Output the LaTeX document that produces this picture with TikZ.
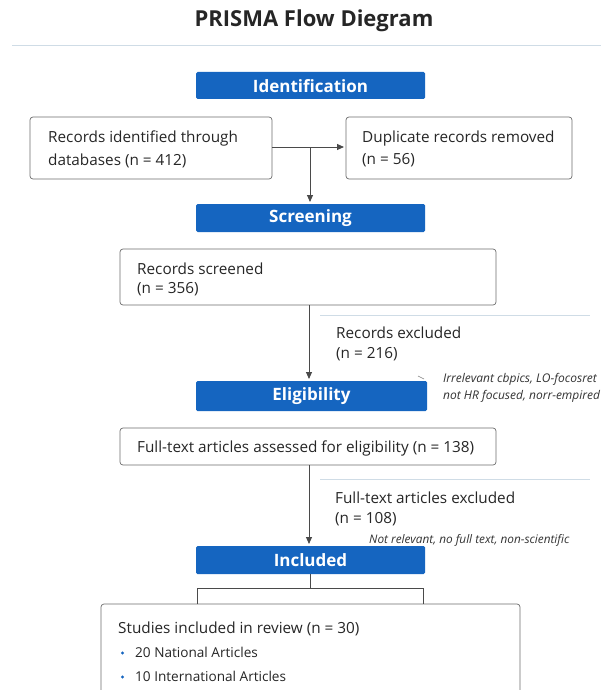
\documentclass[tikz,border=0pt]{standalone}
\usepackage{fontspec}
\setmainfont{Open Sans}
\usetikzlibrary{arrows.meta}
\definecolor{barblue}{HTML}{1565C0}
\definecolor{boxgray}{HTML}{6E6E6E}
\definecolor{arrgray}{HTML}{4A4A4A}
\definecolor{rulecol}{HTML}{CFDCE6}
\tikzset{
  bar/.style={fill=barblue, draw=none, rounded corners=1.5pt},
  bartext/.style={text=white, font=\fontsize{17}{20}\selectfont\bfseries, inner sep=0pt},
  databox/.style={draw=boxgray, line width=0.7pt, rounded corners=3pt, fill=white},
  txt/.style={font=\fontsize{15.3}{18}\selectfont, text=black!85, inner sep=0pt, anchor=west},
  note/.style={font=\fontsize{12}{14}\selectfont\itshape, text=black!80, inner sep=0pt, anchor=west},
  flow/.style={draw=arrgray, line width=0.9pt, -{Triangle[length=7pt,width=6pt]}},
  thin/.style={draw=rulecol, line width=0.8pt},
  dot/.style={circle, fill=barblue, inner sep=0pt, minimum size=3.2pt},
}
\begin{document}
\begin{tikzpicture}[x=1pt,y=-1pt]
\useasboundingbox[fill=white] (0,0) rectangle (601,690);
% title
\node[font=\fontsize{22}{26}\selectfont\bfseries, text=black!85, inner sep=0pt] (title) at (314,21) {PRISMA Flow Diegram};
\coordinate (r0a) at (12,45); \coordinate (r0b) at (601,45);
\draw[thin] (r0a) -- (r0b);

% bars
\path[bar] (196,72) rectangle (425,99); \node[bartext] (ident) at (310.5,86) {Identification};
\path[bar] (196,204) rectangle (425,232); \node[bartext] (screen) at (310.5,218.5) {Screening};
\path[bar] (196,381) rectangle (427,411); \node[bartext] (elig) at (311.5,396.5) {Eligibility};
\path[bar] (196,546) rectangle (425,574); \node[bartext] (incl) at (310.5,560.5) {Included};

% boxes
\draw[databox] (30,117) rectangle (272,179);
\node[txt] (rec) at (48,138.5) {Records identified through};
\node[txt] (rec2) at (48,160.5) {databases (n = 412)};
\draw[databox] (346,117) rectangle (572,179);
\node[txt] (dup) at (362,138.5) {Duplicate records removed};
\node[txt] (dup2) at (362,160.5) {(n = 56)};

\draw[databox] (120,249) rectangle (496,305);
\node[txt] (scr) at (137,268.5) {Records screened};
\node[txt] (scr2) at (137,289.5) {(n = 356)};

\draw[databox] (120,428) rectangle (496,465);
\node[txt] (ft) at (137,448) {Full-text articles assessed for eligibility (n = 138)};

\draw[databox] (101,604) rectangle (520,700);
\node[txt] (inc) at (118,628.5) {Studies included in review (n = 30)};
\node[dot] (b1) at (122.5,653) {};
\node[txt, font=\fontsize{13.6}{16}\selectfont] (i1) at (135,652) {20 National Articles};
\node[dot] (b2) at (122.5,677) {};
\node[txt, font=\fontsize{13.6}{16}\selectfont] (i2) at (135,676) {10 International Articles};

% connectors identification
\coordinate (a1) at (272,147);
\coordinate (a2) at (344,147);
\coordinate (j1) at (310,147);
\coordinate (j2) at (310,202);
\draw[flow] (a1) -- (a2);
\draw[flow] (j1) -- (j2);

% screening -> eligibility
\coordinate (s1) at (309,305);
\coordinate (s2) at (309,379);
\draw[flow] (s1) -- (s2);
\coordinate (l1a) at (320,315); \coordinate (l1b) at (590,315);
\draw[thin] (l1a) -- (l1b);
\node[txt] (ex1) at (336,332.5) {Records excluded};
\node[txt] (ex1b) at (336,354.5) {(n = 216)};
\coordinate (hk1) at (418,376); \coordinate (hk2) at (424,379);
\draw[arrgray!70, line width=0.6pt] (hk1) -- (hk2);
\node[note] (why1) at (443,379) {Irrelevant cbpics, LO-focosret};
\node[note] (why1b) at (443,396) {not HR focused, norr-empired};

% eligibility -> included
\coordinate (e1) at (309,465);
\coordinate (e2) at (309,544);
\draw[flow] (e1) -- (e2);
\coordinate (l2a) at (320,479); \coordinate (l2b) at (590,479);
\draw[thin] (l2a) -- (l2b);
\node[txt] (ex2) at (335,497.5) {Full-text articles excluded};
\node[txt] (ex2b) at (335,519.5) {(n = 108)};
\node[note, font=\fontsize{11.8}{14}\selectfont\itshape] (why2) at (369,540) {Not relevant, no full text, non-scientific};

% included -> studies
\coordinate (c0) at (310,574);
\coordinate (c1) at (310,588);
\coordinate (cl) at (197,588);
\coordinate (cr) at (423,588);
\coordinate (cld) at (197,604);
\coordinate (crd) at (423,604);
\draw[arrgray, line width=0.7pt] (c0) -- (c1);
\draw[arrgray, line width=0.9pt] (cld) -- (cl) -- (cr) -- (crd);
\end{tikzpicture}
\end{document}
